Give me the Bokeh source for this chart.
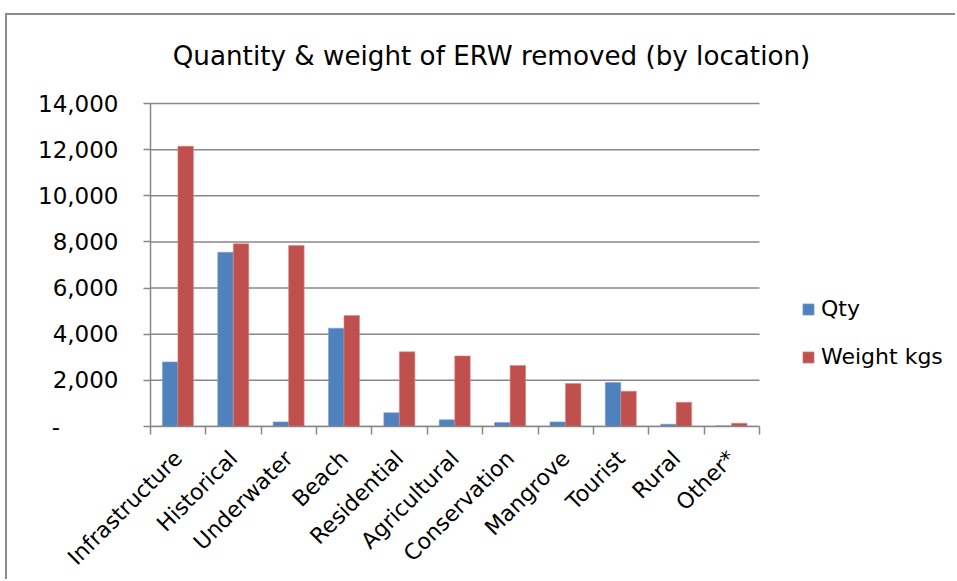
import numpy as np
from math import pi
from bokeh.plotting import figure
from bokeh.models import (Range1d, FixedTicker, CustomJSTickFormatter, Legend, LegendItem, Label)
from bokeh.embed import file_html
from bokeh.resources import INLINE

# ---- data ----
locations = ["Infrastructure", "Historical", "Underwater", "Beach", "Residential",
             "Agricultural", "Conservation", "Mangrove", "Tourist", "Rural", "Other*"]
qty = [2800, 7550, 200, 4260, 600, 290, 175, 200, 1910, 100, 30]
weight_kgs = [12150, 7920, 7850, 4810, 3240, 3060, 2640, 1860, 1530, 1050, 140]
series_names = ["Qty", "Weight kgs"]
series_colors = ["#4F81BD", "#C0504D"]
y_ticks = [0, 2000, 4000, 6000, 8000, 10000, 12000, 14000]
title_text = "Quantity & weight of ERW removed (by location)"

FONT = "DejaVu Sans"
GRAY = "#888888"

n = len(locations)
idx = np.arange(n)
y_max = y_ticks[-1]

# The frame spans the plot area plus the title and legend areas;
# the category axis occupies 609 of 805 px, the value axis 323 of 411 px.
x_end = n * 805 / 609
y_end = y_max * 411 / 323

p = figure(width=950, height=566, title=None,
           x_range=Range1d(0, x_end), y_range=Range1d(0, y_end),
           output_backend="svg", toolbar_location=None,
           min_border_left=143, min_border_right=2,
           min_border_top=0, min_border_bottom=149)
p.styles = {"margin-top": "13px", "margin-left": "5px",
            "border-top": "2px solid #8c8c8c", "border-left": "2px solid #8c8c8c"}

p.outline_line_color = None
p.background_fill_color = "white"
p.border_fill_color = "white"

# gridlines limited to the category area
p.xgrid.visible = False
p.ygrid.visible = False
p.segment(x0=[0] * len(y_ticks), x1=[n] * len(y_ticks), y0=y_ticks, y1=y_ticks,
          line_color=GRAY, line_width=1.5, level="underlay")

r1 = p.vbar(x=idx + 0.355, top=qty, width=0.28, fill_color=series_colors[0],
            line_color="#7fa3d3", line_width=0.6)
r2 = p.vbar(x=idx + 0.635, top=weight_kgs, width=0.28, fill_color=series_colors[1],
            line_color="#d98a88", line_width=0.6)

# title
p.add_layout(Label(x=341, y=371, x_units="screen", y_units="screen", text=title_text,
                   text_align="center", text_baseline="middle",
                   text_font=FONT, text_font_size="26.2px", text_color="black"))

# y axis
yax = p.yaxis[0]
yax.bounds = (0, y_max)
yax.ticker = FixedTicker(ticks=y_ticks, minor_ticks=[])
yax.formatter = CustomJSTickFormatter(
    code="return tick == 0 ? '-\u2007\u2007\u2007\u2007' : tick.toLocaleString('en-US');")
yax.axis_line_color = GRAY
yax.axis_line_width = 1.5
yax.major_tick_line_color = GRAY
yax.major_tick_line_width = 1.5
yax.major_tick_out = 7
yax.major_tick_in = 0
yax.minor_tick_line_color = None
yax.major_label_standoff = 25
yax.major_label_text_font = FONT
yax.major_label_text_font_size = "23px"
yax.major_label_text_color = "black"

# x axis
xax = p.xaxis[0]
xax.bounds = (0, n)
xax.ticker = FixedTicker(ticks=list(idx + 0.5), minor_ticks=list(range(n + 1)))
xax.formatter = CustomJSTickFormatter(args=dict(cats=locations),
                                      code="return cats[Math.floor(tick)];")
xax.axis_line_color = GRAY
xax.axis_line_width = 1.5
xax.major_tick_line_color = None
xax.minor_tick_line_color = GRAY
xax.minor_tick_line_width = 1.5
xax.minor_tick_out = 8
xax.minor_tick_in = 0
xax.major_label_orientation = pi / 4
xax.major_label_standoff = 20
xax.major_label_text_font = FONT
xax.major_label_text_font_size = "22px"
xax.major_label_text_color = "black"

legend = Legend(items=[LegendItem(label=series_names[0], renderers=[r1]),
                       LegendItem(label=series_names[1], renderers=[r2])],
                location=(651, 57), orientation="vertical",
                glyph_width=14, glyph_height=14, spacing=23,
                padding=0, margin=0, label_standoff=6,
                label_text_font=FONT, label_text_font_size="22px",
                label_text_color="black",
                border_line_color=None, background_fill_alpha=0)
p.add_layout(legend)

open("out.html", "w").write(file_html(p, INLINE))
